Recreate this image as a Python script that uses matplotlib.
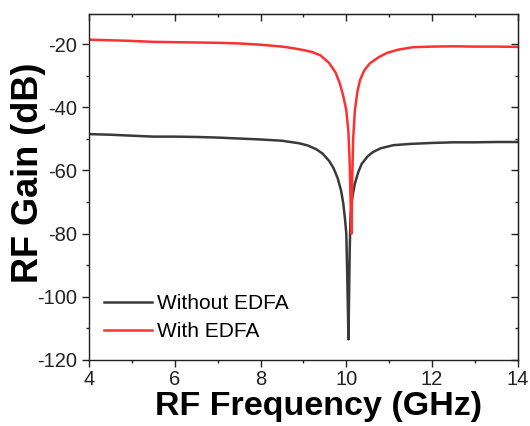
import matplotlib
matplotlib.use("Agg")
import matplotlib.pyplot as plt
from matplotlib.ticker import MultipleLocator

plt.rcParams['font.family'] = ['Liberation Sans', 'DejaVu Sans']
plt.rcParams['axes.unicode_minus'] = False

# ---------------- DATA ---------------- #
# With EDFA (red)
freq_edfa = [4.0, 4.5, 5.0, 5.5, 6.0, 6.5, 7.0, 7.5, 8.0, 8.5, 8.8, 9.0, 9.2, 9.4,
             9.6, 9.75, 9.85, 9.93, 10.0, 10.05, 10.08, 10.1, 10.12, 10.14, 10.16,
             10.2, 10.26, 10.32, 10.42, 10.55, 10.75, 10.95, 11.2, 11.55, 12.0,
             12.5, 13.0, 13.5, 14.0]
gain_edfa = [-18.6, -18.8, -19.0, -19.3, -19.4, -19.5, -19.6, -19.8, -20.2, -20.8,
             -21.4, -21.9, -22.5, -23.6, -26.0, -29.0, -32.5, -36.5, -41.0, -48.0,
             -58.0, -70.0, -80.0, -62.0, -50.0, -41.0, -35.0, -31.4, -28.3, -26.1,
             -24.2, -22.8, -21.8, -21.0, -20.8, -20.7, -20.8, -20.8, -20.9]

# Without EDFA (dark grey)
freq_no_edfa = [4.0, 4.5, 5.0, 5.5, 6.0, 6.5, 7.0, 7.5, 8.0, 8.5, 8.9, 9.1, 9.3,
                9.45, 9.6, 9.7, 9.8, 9.88, 9.93, 9.97, 10.0, 10.02, 10.04, 10.05,
                10.06, 10.08, 10.1, 10.14, 10.2, 10.28, 10.36, 10.5, 10.62, 10.8,
                11.1, 11.5, 12.0, 12.5, 13.0, 13.5, 14.0]
gain_no_edfa = [-48.5, -48.7, -49.0, -49.3, -49.3, -49.4, -49.6, -49.9, -50.2, -50.6,
                -51.4, -52.1, -53.3, -54.7, -57.0, -59.2, -62.5, -66.5, -70.5, -75.5,
                -80.0, -92.0, -106.0, -113.5, -104.0, -85.0, -74.0, -68.5, -64.2,
                -60.5, -57.9, -55.5, -54.2, -53.0, -52.0, -51.6, -51.3, -51.1, -51.1,
                -51.0, -51.0]

# ---------------- PLOT ---------------- #
fig = plt.figure(figsize=(5.3, 4.26), dpi=100)
ax = fig.add_axes([0.168, 0.155, 0.809, 0.812])

ax.plot(freq_no_edfa, gain_no_edfa, color="#3a3a3a", lw=1.8, label="Without EDFA")
ax.plot(freq_edfa, gain_edfa, color="#ff3030", lw=1.8, label="With EDFA")

ax.set_xlim(4, 14)
ax.set_ylim(-120, -10.5)
ax.xaxis.set_major_locator(MultipleLocator(2))
ax.xaxis.set_minor_locator(MultipleLocator(1))
ax.yaxis.set_major_locator(MultipleLocator(20))
ax.yaxis.set_minor_locator(MultipleLocator(10))

# Origin style ticks: out on bottom/left, in on top/right
ax.tick_params(which="both", direction="out", labelsize=14.5, width=1.0, colors="#222222")
ax.tick_params(which="major", length=5)
ax.tick_params(which="minor", length=2.5)
ax.tick_params(axis="x", pad=2)

sec_x = ax.secondary_xaxis("top")
sec_x.xaxis.set_major_locator(MultipleLocator(2))
sec_x.xaxis.set_minor_locator(MultipleLocator(1))
sec_x.tick_params(which="both", direction="in", labeltop=False, width=1.0, colors="#222222")
sec_x.tick_params(which="major", length=5)
sec_x.tick_params(which="minor", length=2.5)
sec_y = ax.secondary_yaxis("right")
sec_y.yaxis.set_major_locator(MultipleLocator(20))
sec_y.yaxis.set_minor_locator(MultipleLocator(10))
sec_y.tick_params(which="both", direction="in", labelright=False, width=1.0, colors="#222222")
sec_y.tick_params(which="major", length=5)
sec_y.tick_params(which="minor", length=2.5)

for s in ax.spines.values():
    s.set_linewidth(1.0)
    s.set_color("#222222")

ax.set_xlabel("RF Frequency (GHz)", fontsize=24.5, fontweight="bold")
ax.set_ylabel("RF Gain (dB)", fontsize=26, fontweight="bold")
ax.xaxis.set_label_coords(0.536, -0.09)
ax.yaxis.set_label_coords(-0.10, 0.54)

ax.legend(loc="center left", frameon=False, fontsize=15, handlelength=2.3,
          handletextpad=0.25, labelspacing=0.42, borderpad=0, borderaxespad=0,
          bbox_to_anchor=(0.035, 0.123))

fig.savefig("out.png", dpi=100)
